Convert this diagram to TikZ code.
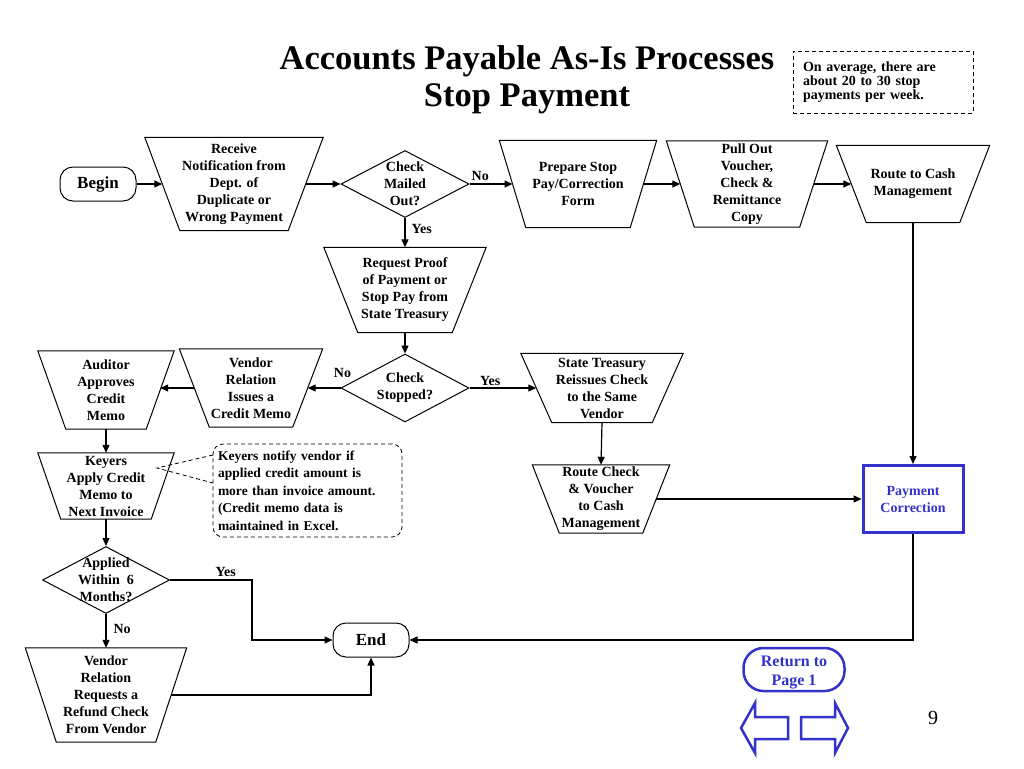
\documentclass[tikz,border=0pt]{standalone}
\usepackage{fontspec}
\setmainfont{Liberation Serif}
\usetikzlibrary{shapes.geometric,arrows.meta}
\definecolor{navy}{RGB}{51,51,204}
% manual-operation trapezium: name, x, y, top width, bottom width, height, text
\newcommand\mop[7]{%
  \pgfmathsetmacro\mopin{(#4-#5)/2}%
  \node[dtext, minimum width=#4, minimum height=#6] (#1) at (#2,#3) {#7};
  \draw[shapeline] (#1.north west) -- (#1.north east) -- ([xshift={-\mopin}]#1.south east) -- ([xshift={\mopin}]#1.south west) -- cycle;
  \coordinate (#1-w) at ([xshift={\mopin/2}]#1.west);
  \coordinate (#1-e) at ([xshift={-\mopin/2}]#1.east);
}
\begin{document}
\begin{tikzpicture}[x=1pt,y=-1pt,
  shapeline/.style={line width=1pt},
  shp/.style={draw, line width=1pt, inner sep=0pt},
  dtext/.style={font=\bfseries\fontsize{14}{17}\selectfont, align=center, inner sep=0pt},
  txt/.style={label={[dtext]center:{#1}}},
  decision/.style={shp, diamond},
  term/.style={shp, rectangle, rounded corners=13pt, font=\bfseries\fontsize{17}{20}\selectfont},
  conn/.style={line width=1.2pt, -{Triangle[length=8pt,width=7pt]}},
  lbl/.style={font=\bfseries\fontsize{14}{17}\selectfont, inner sep=0pt},
  ptr/.style={line width=0.8pt, dash pattern=on 4pt off 3pt},
  navybox/.style={draw=navy, text=navy, align=center},
]
\useasboundingbox (0,0) rectangle (1024,768);
\fill[white] (0,0) rectangle (1024,768);

% title and note
\node[font=\bfseries\fontsize{34.5}{37}\selectfont, align=center, inner sep=0pt] (title) at (527,80) {Accounts Payable As-Is Processes\\Stop Payment};
\node[draw, line width=0.8pt, dash pattern=on 4pt off 3pt, minimum width=180, minimum height=62, text width=160, align=left, font=\bfseries\fontsize{14}{14.3}\selectfont, inner sep=0pt] (note) at (883,82) {On average, there are\\about 20 to 30 stop\\payments per week.};

% top row
\node[term, minimum width=76, minimum height=34] (begin) at (98,184) {Begin};
\mop{receive}{234}{184}{178}{108}{93}{Receive\\Notification from\\Dept. of\\Duplicate or\\Wrong Payment}
\node[decision, minimum width=128, minimum height=67, txt={Check\\Mailed\\Out?}] (mailed) at (405,184) {};
\mop{prepare}{578}{184}{157}{104}{87}{Prepare Stop\\Pay/Correction\\Form}
\mop{pullout}{747}{184}{161}{105}{86}{Pull Out\\Voucher,\\Check \&\\Remittance\\Copy}
\mop{routecash}{913}{184}{153}{93}{77}{Route to Cash\\Management}

% middle
\mop{request}{405}{290}{162}{94}{85}{Request Proof\\of Payment or\\Stop Pay from\\State Treasury}
\node[decision, minimum width=128, minimum height=68, txt={Check\\Stopped?}] (stopped) at (405,388) {};
\mop{vrissues}{251}{388}{143}{83}{78}{Vendor\\Relation\\Issues a\\Credit Memo}
\mop{auditor}{106}{390}{136}{80}{78}{Auditor\\Approves\\Credit\\Memo}
\mop{statet}{602}{388}{162}{100}{69}{State Treasury\\Reissues Check\\to the Same\\Vendor}
\mop{routecheck}{601}{499}{137}{83}{68}{Route Check\\\& Voucher\\to Cash\\Management}
\node[navybox, line width=3pt, minimum width=100, minimum height=67, font=\bfseries\fontsize{14}{17}\selectfont, inner sep=0pt] (paycorr) at (913,499) {Payment\\Correction};

% left column
\mop{keyers}{106}{486}{136}{90}{66}{Keyers\\Apply Credit\\Memo to\\Next Invoice}
\node[draw, line width=0.8pt, dash pattern=on 4pt off 3pt, rounded corners=10pt, minimum width=189, minimum height=93, text width=179, align=left, font=\bfseries\fontsize{13.5}{17.5}\selectfont, inner sep=0pt] (callout) at (307.5,490.5) {Keyers notify vendor if\\applied credit amount is\\more than invoice amount.\\(Credit memo data is\\maintained in Excel.};
\node[decision, minimum width=127, minimum height=67, txt={Applied\\Within~ 6\\Months?}] (applied) at (106,580) {};
\mop{refund}{106}{695}{161}{99}{94}{Vendor\\Relation\\Requests a\\Refund Check\\From Vendor}
\node[term, minimum width=76, minimum height=34] (end) at (371,640) {End};

% navigation
\node[draw=navy, line width=2.5pt, rounded corners=20pt, minimum width=101, minimum height=43, inner sep=0pt,
  label={[text=navy, align=center, inner sep=0pt, yshift=-3pt, font=\bfseries\fontsize{16}{19.5}\selectfont]center:{Return to\\Page 1}}] (ret) at (794,669.5) {};
\draw[navy, line width=2.5pt, line join=miter] (741,728) -- (755,703) -- (755,717) -- (788,717) -- (788,739) -- (755,739) -- (755,753) -- cycle;
\draw[navy, line width=2.5pt, line join=miter] (848,728) -- (835,703) -- (835,717) -- (801,717) -- (801,739) -- (835,739) -- (835,753) -- cycle;
\node[font=\fontsize{20}{24}\selectfont, inner sep=0pt] (pnum) at (933,718) {9};

% connectors
\draw[conn] (begin.east) -- (receive-w);
\draw[conn] (receive-e) -- (mailed.west);
\draw[conn] (mailed.east) -- node[lbl, above=3pt, pos=0.25] {No} (prepare-w);
\draw[conn] (prepare-e) -- (pullout-w);
\draw[conn] (pullout-e) -- (routecash-w);
\draw[conn] (mailed.south) -- node[lbl, right=6pt, pos=0.37] {Yes} (request.north);
\draw[conn] (request.south) -- (stopped.north);
\draw[conn] (stopped.west) -- node[lbl, above=10pt, pos=0, xshift=2pt] {No} (vrissues-e);
\draw[conn] (stopped.east) -- node[lbl, above=2pt, pos=0.31] {Yes} (statet-w);
\draw[conn] (vrissues-w) -- (vrissues-w -| auditor-e);
\draw[conn] (auditor.south) -- (keyers.north);
\draw[conn] (keyers.south) -- (applied.north);
\draw[conn] (applied.east) -- node[lbl, above=2.5pt, pos=0.68] {Yes} ++(82,0) |- (end.west);
\draw[conn] (applied.south) -- node[lbl, right=7pt, pos=0.44] {No} (refund.north);
\draw[conn] (refund-e) -| (end.south);
\draw[conn] (statet.south) -- (routecheck.north);
\draw[conn] (routecheck-e) -- (paycorr.west);
\draw[conn] (routecash.south) -- (paycorr.north);
\draw[conn] (paycorr.south) |- (end.east);

% callout pointer
\coordinate (cp) at (157,468);
\coordinate (c1) at (213,455);
\coordinate (c2) at (213,483);
\draw[ptr] (c1) -- (cp) -- (c2);
\end{tikzpicture}
\end{document}
